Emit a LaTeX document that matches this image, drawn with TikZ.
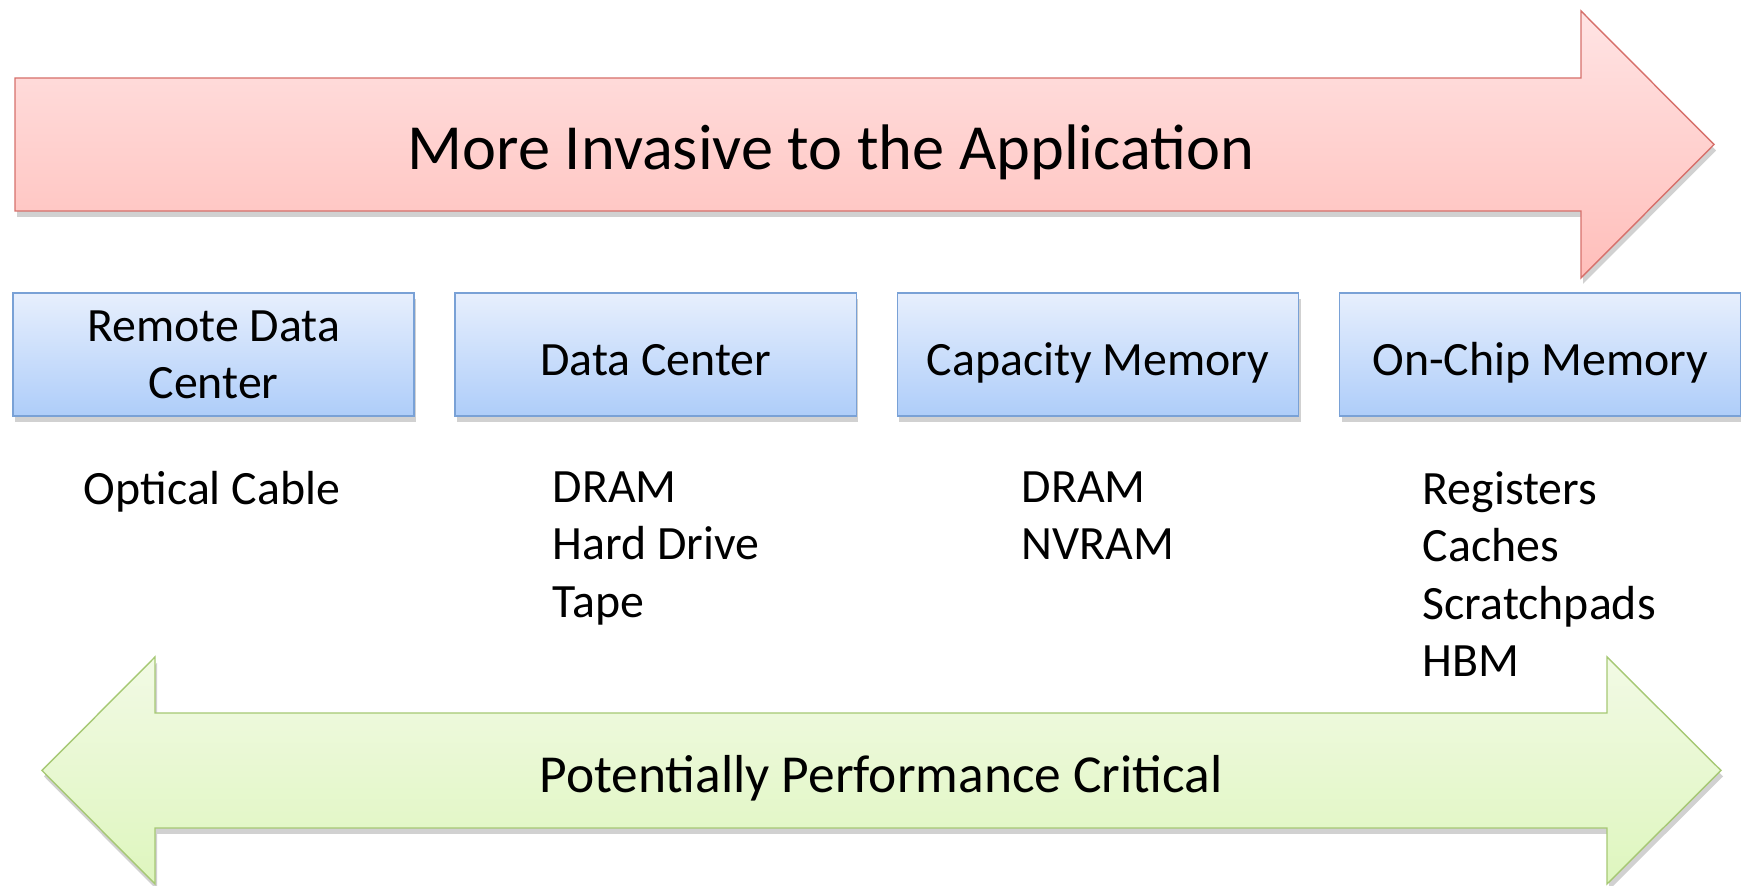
\documentclass[tikz,border=0pt]{standalone}
\usepackage{fontspec}
\setmainfont{Carlito}
\usepackage{tikz}
\usetikzlibrary{positioning,shadows}
\definecolor{invtop}{RGB}{255,228,228}
\definecolor{invbot}{RGB}{255,190,186}
\definecolor{invline}{RGB}{214,112,107}
\definecolor{laytop}{RGB}{231,239,253}
\definecolor{laybot}{RGB}{174,205,249}
\definecolor{layline}{RGB}{121,161,214}
\definecolor{perftop}{RGB}{242,250,229}
\definecolor{perfbot}{RGB}{222,246,190}
\definecolor{perfline}{RGB}{166,200,116}
\tikzset{
        node distance=0.41cm, % gap between two layer boxes
        soft shadow/.style={drop shadow={shadow xshift=0.2mm,shadow yshift=-0.6mm,opacity=0.3,fill=black!60}}, % shadow under every shape
    }
\tikzstyle{layer}=[draw=layline,top color=laytop,bottom color=laybot,minimum width=4.01cm,minimum height=1.23cm,inner sep=0pt,outer sep=0pt,align=center,text depth=0pt,execute at begin node={\rule{0pt}{12pt}},soft shadow]
\tikzstyle{itemlist}=[inner sep=0pt,align=left,anchor=north west]

\begin{document}
\begin{tikzpicture}[x=0.01cm,y=-0.01cm,font=\fontsize{13.6}{16.3}\selectfont]
    \useasboundingbox (0,0) rectangle (1741,886);
    % top arrow
    \draw[invline,top color=invtop,bottom color=invbot,soft shadow]
        (15,78) -- (1581,78) -- (1581,11) -- (1714,144.5) -- (1581,278) -- (1581,211) -- (15,211) -- cycle;
    \node[font=\fontsize{18.3}{22}\selectfont,anchor=base] (invasive) at (831,170) {More Invasive to the Application};
    % the four layers
    \node[layer] (remote) at (213.5,354.5) {Remote Data\\Center};
    \node[layer,right=of remote] (center) {Data Center};
    \node[layer,right=of center] (capacity) {Capacity Memory};
    \node[layer,right=of capacity] (onchip) {On-Chip Memory};
    % what sits in each layer
    \node[itemlist,anchor=north] (remoteitems) at (212,471) {Optical Cable};
    \node[itemlist] (centeritems) at (552,471) {DRAM\\Hard Drive\\Tape};
    \node[itemlist] (capacityitems) at (1021,471) {DRAM\\NVRAM};
    \node[itemlist] (onchipitems) at (1422,471) {Registers\\Caches\\Scratchpads\\HBM};
    % bottom arrow
    \draw[perfline,top color=perftop,bottom color=perfbot,soft shadow]
        (42,770.5) -- (155,657) -- (155,713) -- (1607,713) -- (1607,657) -- (1721,770.5)
        -- (1607,884) -- (1607,828) -- (155,828) -- (155,884) -- cycle;
    \node[font=\fontsize{15.2}{18}\selectfont,anchor=base] (critical) at (881,793) {Potentially Performance Critical};
\end{tikzpicture}
\end{document}
